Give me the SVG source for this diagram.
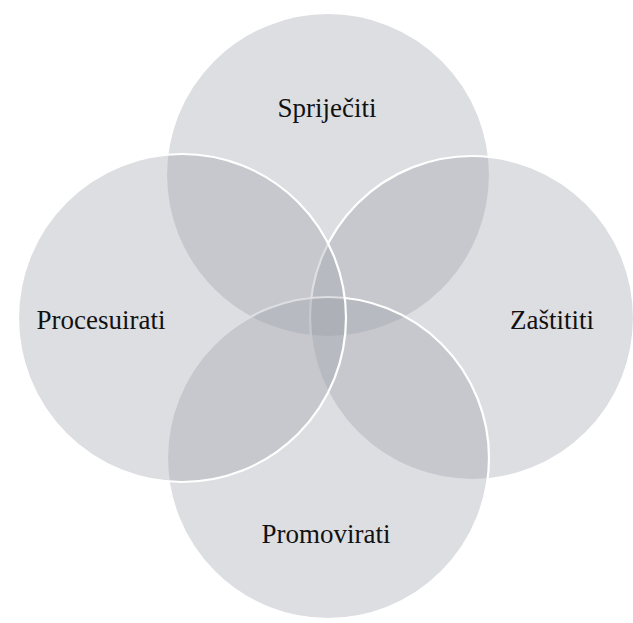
<svg xmlns="http://www.w3.org/2000/svg" width="633" height="623" viewBox="0 0 633 623">
<style>
.c{fill:#9c9ea6;fill-opacity:0.34;stroke:#ffffff;stroke-width:2.2}
.t{font-family:"Liberation Serif","Times New Roman",serif;font-size:27px;fill:#111111;text-anchor:middle}
</style>
<rect width="633" height="623" fill="#ffffff"/>
<g id="sprijeciti">
<circle class="c" cx="328" cy="175" r="162"/>
<text class="t" x="327" y="117">Spriječiti</text>
</g>
<g id="zastititi">
<circle class="c" cx="472" cy="318" r="162"/>
<text class="t" x="552" y="329">Zaštititi</text>
</g>
<g id="promovirati">
<circle class="c" cx="328" cy="458" r="161"/>
<text class="t" x="326" y="543">Promovirati</text>
</g>
<g id="procesuirati">
<circle class="c" cx="182" cy="318" r="164"/>
<text class="t" x="101" y="329">Procesuirati</text>
</g>
<g id="connectors"></g>
</svg>
